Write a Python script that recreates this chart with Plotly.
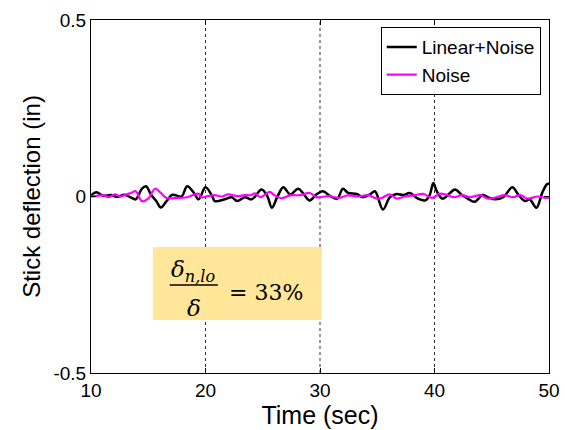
import plotly.graph_objects as go

# Linear+Noise (black) samples
t_lin = [10.0, 10.45, 11.1, 11.75, 12.3, 12.9, 13.5, 13.9, 14.45, 14.8, 15.25, 15.7, 16.1, 16.6, 17.1, 17.9,
         18.4, 19.0, 19.4, 20.0, 20.6, 20.8, 21.7, 22.3, 22.75, 23.45, 24.05, 24.9, 25.4, 25.8, 26.3, 26.8,
         27.4, 28.1, 28.5, 29.1, 29.7, 30.25, 30.9, 31.5, 32.0, 32.45, 33.2, 33.75, 34.4, 34.8, 35.5, 36.1,
         36.7, 37.25, 37.85, 38.55, 39.2, 39.6, 39.9, 40.2, 40.7, 41.35, 41.8, 42.4, 42.9, 43.5, 44.2, 44.65,
         45.3, 46.0, 46.8, 47.3, 47.9, 48.3, 48.9, 49.4, 49.8, 50.0]
v_lin = [0.002, 0.012, 0.002, 0.004, -0.001, 0.005, -0.003, -0.008, 0.022, 0.029, 0.005, -0.013, -0.031, -0.013, 0.005, 0.0,
         0.029, 0.010, -0.008, 0.026, 0.0, -0.013, -0.008, -0.002, -0.013, -0.002, -0.008, 0.020, 0.001, -0.032, 0.001, 0.026,
         0.006, 0.022, 0.010, -0.011, 0.006, 0.015, 0.001, -0.006, 0.022, 0.010, 0.007, -0.002, 0.007, 0.015, -0.037, -0.002,
         0.007, 0.004, 0.010, -0.006, -0.011, 0.006, 0.038, 0.015, -0.006, 0.010, 0.020, 0.004, -0.006, -0.015, 0.004, -0.002,
         -0.008, -0.002, 0.026, 0.006, -0.013, -0.008, -0.032, 0.010, 0.034, 0.037]

# Noise (magenta) samples
t_noise = [10.0, 10.4, 11.1, 11.5, 12.1, 12.6, 13.1, 13.5, 13.9, 14.45, 15.0, 15.6, 16.1, 16.6, 17.5, 18.4, 19.4,
           19.6, 20.2, 20.8, 21.4, 22.0, 22.8, 23.4, 24.0, 24.3, 24.8, 25.6, 26.0, 26.6, 27.4, 28.3, 29.1, 29.7,
           30.8, 31.6, 32.45, 33.35, 34.2, 34.95, 35.4, 36.1, 36.7, 37.4, 38.3, 39.0, 39.8, 40.4, 40.95, 41.7,
           42.4, 43.1, 44.0, 44.65, 45.4, 46.1, 46.9, 47.5, 48.1, 49.0, 49.7, 50.0]
v_noise = [0.0, 0.001, 0.004, -0.002, 0.006, 0.0, 0.006, 0.010, 0.015, -0.013, -0.006, 0.022, 0.010, -0.004, -0.004, -0.002, 0.008,
           -0.002, 0.001, 0.004, 0.0, 0.006, 0.001, 0.004, 0.004, 0.009, -0.002, 0.013, 0.004, -0.005, 0.003, 0.004, 0.010, -0.002,
           0.001, -0.004, 0.003, 0.0, 0.004, -0.006, -0.004, 0.006, -0.006, 0.0, 0.004, 0.0075, -0.004, 0.0075, 0.006, -0.002,
           0.004, -0.002, 0.004, -0.006, -0.002, 0.004, -0.002, 0.004, -0.006, 0.0, -0.004, -0.003]

x_ticks = [10, 20, 30, 40, 50]
y_ticks = [-0.5, 0, 0.5]
y_tick_text = ["-0.5", "0", "0.5"]
grid_x = [20, 30, 40]

FONT = "Liberation Sans, Arial, sans-serif"
SERIF = "DejaVu Serif, serif"

fig = go.Figure()
fig.add_trace(go.Scatter(x=t_lin, y=v_lin, mode="lines", name="Linear+Noise",
                         line=dict(color="black", width=2.5, shape="spline", smoothing=1.0)))
fig.add_trace(go.Scatter(x=t_noise, y=v_noise, mode="lines", name="Noise",
                         line=dict(color="#FF00FF", width=2.2, shape="spline", smoothing=1.0)))

shapes = []
for gx in grid_x:
    shapes.append(dict(type="line", xref="x", yref="paper", x0=gx, x1=gx, y0=0, y1=1,
                       line=dict(color="#333333", width=1, dash="dot"), layer="below"))
# yellow box
shapes.append(dict(type="rect", xref="paper", yref="paper", x0=0.135, x1=0.504, y0=0.150, y1=0.357,
                   fillcolor="#FFE699", line=dict(width=0), layer="above"))
# fraction bar
shapes.append(dict(type="line", xref="paper", yref="paper", x0=0.172, x1=0.277, y0=0.249, y1=0.249,
                   line=dict(color="black", width=1.5), layer="above"))

annotations = [
    dict(xref="paper", yref="paper", x=0.222, y=0.289, xanchor="center", yanchor="middle", showarrow=False,
         text="<i>δ<sub>n,lo</sub></i>", font=dict(family=SERIF, size=23, color="black")),
    dict(xref="paper", yref="paper", x=0.225, y=0.183, xanchor="center", yanchor="middle", showarrow=False,
         text="<i>δ</i>", font=dict(family=SERIF, size=23, color="black")),
    dict(xref="paper", yref="paper", x=0.298, y=0.229, xanchor="left", yanchor="middle", showarrow=False,
         text="= 33%", font=dict(family=SERIF, size=22, color="black")),
]

fig.update_layout(
    width=565, height=430,
    margin=dict(l=91, r=16, t=20, b=57),
    paper_bgcolor="white", plot_bgcolor="white",
    font=dict(family=FONT, color="black"),
    showlegend=True,
    legend=dict(x=0.982, y=0.98, xanchor="right", yanchor="top",
                bordercolor="black", borderwidth=1, bgcolor="white",
                font=dict(family=FONT, size=19, color="black"),
                tracegroupgap=0, itemwidth=30),
    shapes=shapes,
    annotations=annotations,
)
fig.update_xaxes(range=[10, 50], tickvals=x_ticks, ticks="inside", ticklen=5, tickcolor="black",
                 showline=True, linecolor="black", linewidth=1, mirror="ticks", showgrid=False, zeroline=False,
                 tickfont=dict(family=FONT, size=19), automargin=False,
                 title=dict(text="Time (sec)", font=dict(family=FONT, size=25), standoff=4))
fig.update_yaxes(range=[-0.5, 0.5], tickvals=y_ticks, ticktext=y_tick_text, ticks="inside", ticklen=5,
                 tickcolor="black", showline=True, linecolor="black", linewidth=1, mirror="ticks",
                 showgrid=False, zeroline=False, automargin=False,
                 tickfont=dict(family=FONT, size=19),
                 title=dict(text="Stick deflection (in)", font=dict(family=FONT, size=24), standoff=6))

fig.write_html("out.html")
